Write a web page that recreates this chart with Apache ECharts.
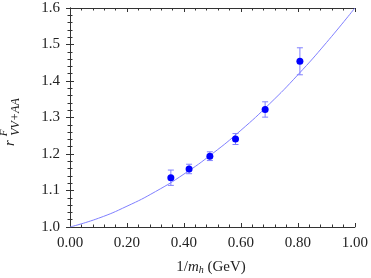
<!DOCTYPE html>
<html><head><meta charset="utf-8">
<script src="https://cdn.jsdelivr.net/npm/echarts@6/dist/echarts.min.js"></script>
<style>html,body{margin:0;padding:0;background:#fff}#c{width:371px;height:278px}</style>
</head><body><div id="c"></div>
<script>
var xTicks = [0, 0.2, 0.4, 0.6, 0.8, 1.0];
var yTicks = [1.0, 1.1, 1.2, 1.3, 1.4, 1.5, 1.6];
var pointX = [0.354, 0.418, 0.491, 0.581, 0.685, 0.807];
var pointY = [1.135, 1.159, 1.194, 1.241, 1.322, 1.454];
var pointErr = [0.021, 0.013, 0.012, 0.015, 0.021, 0.037];
var curveX = [0, 0.1, 0.2, 0.3, 0.4, 0.5, 0.6, 0.7, 0.8, 0.9, 1.0];
var curveY = [1.000, 1.024, 1.057, 1.097, 1.145, 1.201, 1.265, 1.337, 1.417, 1.505, 1.600];

var F = '"Liberation Serif", "DejaVu Serif", serif';
var frame = '#333';
var chart = echarts.init(document.getElementById('c'));
var pts = pointX.map(function(x,i){return [x, pointY[i]];});
var errs = pointX.map(function(x,i){return [x, pointY[i]-pointErr[i], pointY[i]+pointErr[i]];});
var curve = curveX.map(function(x,i){return [x, curveY[i]];});
function axisBase(show) {
  return {
    axisLine:{show:true, lineStyle:{color:frame, width:1}},
    axisTick:{show:true, inside:true, length:4, lineStyle:{color:frame}},
    minorTick:{show:true, splitNumber:5, length:2.5, lineStyle:{color:frame}},
    splitLine:{show:false},
    axisLabel:{show:show, fontFamily:F, fontSize:15, color:'#222'}
  };
}
var xa0 = Object.assign(axisBase(true), {type:'value', min:0, max:1, interval:0.2, position:'bottom'});
xa0.axisLabel.formatter = function(v){return v.toFixed(2);};
xa0.axisLabel.margin = 9;
var xa1 = Object.assign(axisBase(false), {type:'value', min:0, max:1, interval:0.2, position:'top'});
var ya0 = Object.assign(axisBase(true), {type:'value', min:1.0, max:1.6, interval:0.1, position:'left'});
ya0.axisLabel.formatter = function(v){return v.toFixed(1);};
ya0.axisLabel.margin = 10;
var ya1 = Object.assign(axisBase(false), {type:'value', min:1.0, max:1.6, interval:0.1, position:'right'});

chart.setOption({
  animation:false,
  grid:{left:70, right:14, top:8, bottom:51},
  xAxis:[xa0, xa1],
  yAxis:[ya0, ya1],
  series:[
    {type:'line', data:curve, smooth:true, symbol:'none', lineStyle:{color:'#7f7fff', width:1}, z:2},
    {type:'custom', data:errs, z:3,
     renderItem:function(params, api){
       var x = api.value(0);
       var lo = api.coord([x, api.value(1)]);
       var hi = api.coord([x, api.value(2)]);
       var w = 3;
       var st = {stroke:'#8080ff', lineWidth:1, fill:null};
       return {type:'group', children:[
         {type:'line', shape:{x1:lo[0], y1:lo[1], x2:hi[0], y2:hi[1]}, style:st},
         {type:'line', shape:{x1:lo[0]-w, y1:lo[1], x2:lo[0]+w, y2:lo[1]}, style:st},
         {type:'line', shape:{x1:hi[0]-w, y1:hi[1], x2:hi[0]+w, y2:hi[1]}, style:st}
       ]};
     }},
    {type:'scatter', data:pts, symbol:'circle', symbolSize:7, itemStyle:{color:'#0000ff', opacity:1}, z:4}
  ],
  graphic:[
    {type:'text', x:211, y:267, style:{
      text:'{n|1/}{i|m}{s|h}{n| (GeV)}', align:'center', verticalAlign:'middle',
      rich:{n:{fontFamily:F, fontSize:15, fill:'#222'}, i:{fontFamily:F, fontSize:15, fontStyle:'italic', fill:'#222'},
            s:{fontFamily:F, fontSize:10, fontStyle:'italic', fill:'#222', padding:[6,0,0,0]}}
    }},
    {type:'text', x:10, y:143, rotation:Math.PI/2, style:{text:'r', font:'italic 15px '+F, fill:'#222', align:'center', verticalAlign:'middle'}},
    {type:'text', x:4, y:133, rotation:Math.PI/2, style:{text:'F', font:'italic 11px '+F, fill:'#222', align:'center', verticalAlign:'middle'}},
    {type:'text', x:16, y:117, rotation:Math.PI/2, style:{text:'VV+AA', font:'italic 12px '+F, fill:'#222', align:'center', verticalAlign:'middle'}}
  ]
});
</script></body></html>
